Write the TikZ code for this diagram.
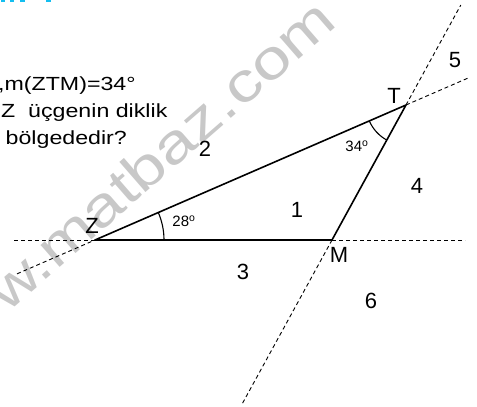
\documentclass[tikz,border=0pt]{standalone}
\usepackage{fontspec}
\setmainfont{Liberation Sans}
\usetikzlibrary{calc}
\definecolor{wmgray}{RGB}{200,200,200}
\definecolor{topcyan}{RGB}{20,190,240}
\tikzset{
  solidline/.style={line width=1.6pt, line cap=round, line join=round},
  dashline/.style={line width=0.9pt, dash pattern=on 4pt off 3pt},
  arcline/.style={line width=1.1pt},
  biglabel/.style={inner sep=0pt, font=\fontsize{22}{26}\selectfont},
  smalllabel/.style={inner sep=0pt, font=\fontsize{15}{18}\selectfont},
  qtext/.style={inner sep=0pt, anchor=base west, font=\fontsize{19}{23}\selectfont},
  wmark/.style={inner sep=0pt, text=wmgray, rotate=41, font=\fontsize{55}{60}\selectfont}
}
\begin{document}
\begin{tikzpicture}[x=1pt,y=1pt]
\useasboundingbox (0,0) rectangle (477,407);
% clipped heading fragment
\fill[topcyan] (1,405) rectangle (5,407);
\fill[topcyan] (10,405) rectangle (14,407);
\fill[topcyan] (20,405) rectangle (25,407);
\fill[topcyan] (46,405) rectangle (51,407);
% watermark
\coordinate (wm) at (241,297);
\node[wmark, anchor=base east] (wm1) at (wm) {\scalebox{1.25}[1]{www.matbaz.}};
\node[wmark, anchor=base west] (wm2) at (wm) {\scalebox{1.25}[1]{com}};
% question text (clipped at left)
\node[qtext] (q1) at (-2,316) {\scalebox{1.22}[1]{,m(ZTM)=34°}};
\node[qtext] (q2) at (1,289) {\scalebox{1.22}[1]{Z\ \ üçgenin diklik}};
\node[qtext] (q3) at (5.5,262) {\scalebox{1.22}[1]{bölgededir?}};
% vertices
\coordinate (Z) at (95,167);
\coordinate (M) at (332,167);
\coordinate (T) at (406,302);
% line ends
\coordinate (H1) at (14,167);
\coordinate (H2) at (465,167);
\coordinate (L1) at ($(Z)!-0.2508!(T)$);
\coordinate (L2) at ($(Z)!1.2058!(T)$);
\coordinate (U1) at ($(M)!1.7407!(T)$);
\coordinate (U2) at ($(M)!-1.2222!(T)$);
% dashed extensions
\draw[dashline] (H1) -- (Z);
\draw[dashline] (M) -- (H2);
\draw[dashline] (L1) -- (Z);
\draw[dashline] (T) -- (L2);
\draw[dashline] (T) -- (U1);
\draw[dashline] (M) -- (U2);
% triangle
\draw[solidline] (Z) -- (M) -- (T) -- cycle;
% angle arcs
\draw[arcline] ($(Z)+(69,0)$) arc[start angle=0, end angle=23.46, radius=69];
\draw[arcline] ($(T)+(203.46:40)$) arc[start angle=203.46, end angle=241.27, radius=40];
% labels
\node[biglabel] (lT) at (394,311) {T};
\node[biglabel] (lZ) at (92,181) {Z};
\node[biglabel] (lM) at (339,152) {M};
\node[biglabel] (r1) at (297,197) {1};
\node[biglabel] (r2) at (205,258) {2};
\node[biglabel] (r3) at (243,135) {3};
\node[biglabel] (r4) at (417,221) {4};
\node[biglabel] (r5) at (455,347) {5};
\node[biglabel] (r6) at (371,106) {6};
\node[smalllabel] (a28) at (184,186) {28\textsuperscript{o}};
\node[smalllabel] (a34) at (357,261) {34\textsuperscript{o}};
\end{tikzpicture}
\end{document}
